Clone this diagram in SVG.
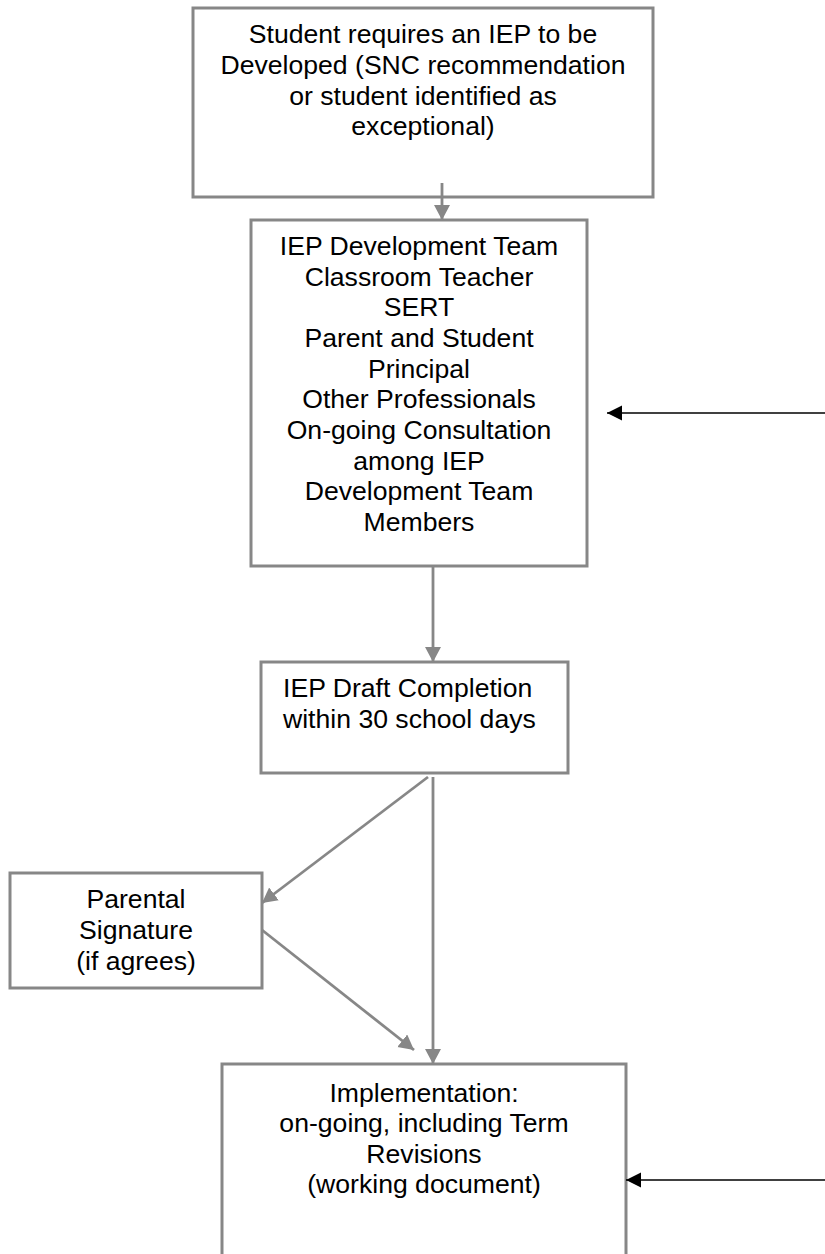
<svg xmlns="http://www.w3.org/2000/svg" width="825" height="1254" viewBox="0 0 825 1254">
<style>
.box{fill:#fff;stroke:#878787;stroke-width:3}
.t{font-family:"Liberation Sans",Arial,sans-serif;font-size:26.6px;fill:#000}
.c{text-anchor:middle}
.g{stroke:#878787;stroke-width:2.8;fill:none}
.k{stroke:#000;stroke-width:1.6;fill:none}
</style>
<defs>
<marker id="ag" markerUnits="userSpaceOnUse" markerWidth="17" markerHeight="17" refX="15" refY="8" orient="auto">
<path d="M0,0 L15,8 L0,16 z" fill="#878787"/>
</marker>
<marker id="ak" markerUnits="userSpaceOnUse" markerWidth="16" markerHeight="16" refX="15" refY="7.5" orient="auto">
<path d="M0,0 L15,7.5 L0,15 z" fill="#000"/>
</marker>
</defs>
<rect width="825" height="1254" fill="#fff"/>
<g id="n1">
<rect class="box" x="193" y="8" width="460" height="189"/>
<text class="t c"><tspan x="423" y="43.3">Student requires an IEP to be</tspan><tspan x="423" y="74">Developed (SNC recommendation</tspan><tspan x="423" y="104.7">or student identified as</tspan><tspan x="423" y="135.3">exceptional)</tspan></text>
</g>
<g id="n2">
<rect class="box" x="251" y="220" width="336" height="346"/>
<text class="t c"><tspan x="419" y="255">IEP Development Team</tspan><tspan x="419" y="285.7">Classroom Teacher</tspan><tspan x="419" y="316.3">SERT</tspan><tspan x="419" y="347">Parent and Student</tspan><tspan x="419" y="377.7">Principal</tspan><tspan x="419" y="408.3">Other Professionals</tspan><tspan x="419" y="439">On-going Consultation</tspan><tspan x="419" y="469.7">among IEP</tspan><tspan x="419" y="500.3">Development Team</tspan><tspan x="419" y="531">Members</tspan></text>
</g>
<g id="n3">
<rect class="box" x="261" y="662" width="307" height="111"/>
<text class="t"><tspan x="283" y="697">IEP Draft Completion</tspan><tspan x="283" y="727.5">within 30 school days</tspan></text>
</g>
<g id="n4">
<rect class="box" x="10" y="873" width="252" height="115"/>
<text class="t c"><tspan x="136" y="908.3">Parental</tspan><tspan x="136" y="939">Signature</tspan><tspan x="136" y="969.7">(if agrees)</tspan></text>
</g>
<g id="n5">
<rect class="box" x="222" y="1064" width="404" height="210"/>
<text class="t c"><tspan x="424" y="1101.5">Implementation:</tspan><tspan x="424" y="1132">on-going, including Term</tspan><tspan x="424" y="1162.5">Revisions</tspan><tspan x="424" y="1193">(working document)</tspan></text>
</g>
<g id="connectors">
<line class="g" x1="442" y1="183" x2="442" y2="220" marker-end="url(#ag)"/>
<line class="g" x1="433" y1="566" x2="433" y2="662" marker-end="url(#ag)"/>
<line class="g" x1="428" y1="777" x2="262" y2="903" marker-end="url(#ag)"/>
<line class="g" x1="433" y1="777" x2="433" y2="1064" marker-end="url(#ag)"/>
<line class="g" x1="262" y1="930" x2="414" y2="1050" marker-end="url(#ag)"/>
<line class="k" x1="825" y1="413" x2="607" y2="413" marker-end="url(#ak)"/>
<line class="k" x1="825" y1="1180" x2="626" y2="1180" marker-end="url(#ak)"/>
</g>
</svg>
